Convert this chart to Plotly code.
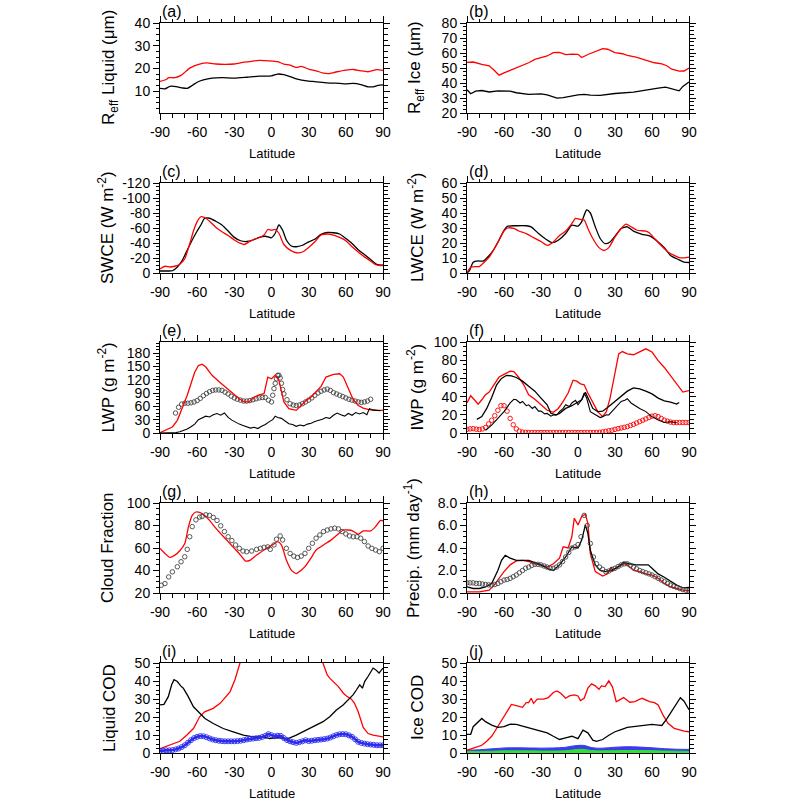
import plotly.graph_objects as go

# ---------------- data ----------------
# (a) Reff liquid
a_lat_red = [-90,-85,-83,-78,-73,-66,-58,-52,-45,-38,-30,-22,-15,-10,-3,5,10,15,20,24,30,36,42,46,52,60,66,72,78,85,90]
a_red = [14.4,15.2,16,16,17,20.2,22,22.5,22,21.8,22,22.8,23.3,23.6,23.4,23,22,21.5,20.5,21,19.8,19,18,17.8,18.5,19.3,19.6,19,18.6,19.5,19.2]
a_lat_blk = [-90,-86,-82,-77,-72,-68,-64,-60,-55,-48,-40,-30,-20,-10,0,5,10,15,20,30,35,45,55,60,66,72,78,82,86,90]
a_blk = [11.3,11.1,12.2,12.1,11.5,11.3,12.6,14,15,15.8,16,15.8,16.2,16.7,16.8,17.6,17.3,16.5,15.5,14.5,14.3,13.7,13.5,13.3,13.5,13,12,12,12.6,12.8]

# (b) Reff ice
b_lat_red = [-90,-85,-78,-72,-68,-64,-60,-50,-40,-35,-30,-25,-20,-15,-10,-5,0,3,8,15,20,24,30,36,40,47,55,62,68,72,76,82,86,90]
b_red = [53.7,54,52.4,51.5,48.5,45.2,46.7,50,53.5,55.7,57,58,60.2,60.4,58.9,59.3,59.1,57,59,61.3,62.9,62.5,60.2,59.5,58.4,57.3,55,53.5,52.8,51.5,49.2,47.9,48,50]
b_lat_blk = [-90,-87,-83,-78,-72,-65,-55,-50,-40,-30,-25,-17,-12,-5,0,5,10,18,30,45,55,65,71,76,82,85,90]
b_blk = [35.5,32.8,34.6,35,34,34.8,34.6,33.5,32.4,32.8,32.1,29.9,30.3,31.5,32.1,32.4,31.9,31.7,33,33.9,35.5,36.6,37.3,36.2,34.8,37.7,40.7]

# (c) SWCE
c_lat_red = [-90,-86,-82,-78,-74,-70,-66,-63,-60,-57,-54,-50,-45,-40,-35,-30,-25,-22,-18,-14,-10,-6,-3,0,3,6,10,15,20,25,30,35,40,45,50,55,60,65,70,75,80,84,88,90]
c_red = [-5.4,-9,-8,-9,-11.6,-19,-39,-56,-68.5,-75,-74,-69,-61,-55,-50,-44,-39.4,-38,-41.6,-45,-47,-50.6,-58,-57,-58,-53,-38,-30.5,-27,-28,-34,-41.6,-50.6,-52,-50.6,-47.5,-43,-35,-28,-21.5,-16,-11,-10,-10.7]
c_lat_blk = [-90,-85,-80,-76,-72,-68,-64,-60,-57,-54,-50,-45,-40,-35,-30,-25,-20,-15,-10,-5,0,3,6,9,12,16,20,25,30,35,40,45,50,55,60,65,70,75,80,85,90]
c_blk = [-2.7,-2.7,-3,-8,-17,-30.5,-44,-56,-64,-73,-73,-69,-64,-56,-47.5,-43,-42,-44,-47.5,-49,-47,-53,-64,-57,-44,-36,-35,-37,-41.6,-45,-51.5,-54,-53.7,-52,-46,-39.4,-31,-24.6,-18,-11.6,-10]

# (d) LWCE
d_lat_red = [-90,-87,-83,-80,-76,-72,-68,-64,-60,-57,-52,-48,-42,-36,-30,-25,-20,-15,-10,-5,-2,2,5,8,12,17,21,25,30,35,39,43,48,55,58,62,68,73,78,82,86,90]
d_red = [0.4,3.8,4.3,4.3,7.2,10.6,16,21.8,28,30,29.7,28,26.3,23.6,21,18.4,20.7,25,28,33,36.4,35.7,35.3,29.7,23,16.9,15,16.9,24,29.7,32.6,30.8,28.5,27.9,26.7,23,17.8,14,11.7,10.3,10.1,10.6]
d_lat_blk = [-90,-88,-85,-81,-77,-72,-68,-64,-60,-57,-50,-42,-38,-32,-26,-21,-16,-10,-5,0,3,7,10,14,18,22,26,30,35,40,45,52,58,65,70,75,82,86,90]
d_blk = [0,1.6,7.2,8.1,7.9,11.7,16,22,28.5,31.2,31.5,31.5,30.8,26.3,22.5,20.2,21.8,26.3,31.9,31.2,34.2,42,40,30.8,23,19.6,20.7,24.5,29.7,30.8,27.9,25.8,24.7,20.7,16.9,11.7,8.8,7.2,7]

# (e) LWP
e_lat_red = [-90,-85,-80,-76,-72,-68,-65,-62,-59,-56,-53,-48,-42,-36,-30,-26,-22,-18,-14,-10,-6,-3,0,3,6,10,14,17,20,24,28,32,36,40,44,50,55,58,62,66,70,74,78,82,86,90]
e_red = [0.8,8,13.5,28.5,55,85,111,137,152,155,148.5,130,115,100,87,77,70,70,81,86,88.5,126,122,130,118.5,70,55,52.5,51,62,73.5,81,92,105,126,132,133.5,126,100,75,62,56,53,51,51,51]
e_lat_blk = [-90,-80,-77,-74,-71,-68,-65,-62,-59,-56,-53,-50,-47,-44,-41,-38,-35,-32,-29,-26,-23,-20,-17,-14,-11,-8,-5,-2,1,3,5,8,11,14,17,20,23,26,29,32,35,38,41,44,47,50,53,56,59,62,65,68,71,74,77,79,82,85,88]
e_blk = [0,0,1,3,6,9,14,20,30,34,38,36,41,44,40,45,35,29,24,20,17,14,11,13,10,15,19,25,30,38,35,33,27,21,19,15,18,16,20,22,26,28,31,35,33,40,45,41,38,44,40,46,43,46,41,55,52,51,50]
e_lat_obs = [-77.5,-75,-72.5,-70,-67.5,-65,-62.5,-60,-57.5,-55,-52.5,-50,-47.5,-45,-42.5,-40,-37.5,-35,-32.5,-30,-27.5,-25,-22.5,-20,-17.5,-15,-12.5,-10,-7.5,-5,-2.5,0,1,2,3,4,5,6,7,8,9,10,12.5,15,17.5,20,22.5,25,27.5,30,32.5,35,37.5,40,42.5,45,47.5,50,52.5,55,57.5,60,62.5,65,67.5,70,72.5,75,77.5,80]
e_obs = [45,58,65,67,67,68,70,73,78,84,89,93,96,97,97,96,92,88,83,79,76,74,72,72,73,75,77,79,80,80,74,70,85,100,112,122,130,130,124,112,98,88,75,66,63,62,63,66,70,74,79,85,90,94,97,99,96,91,88,85,82,79,76,74,72,70,69,70,72,76]

# (f) IWP
f_lat_red = [-90,-87,-84,-81,-78,-75,-72,-68,-64,-60,-55,-52,-48,-44,-40,-35,-30,-25,-20,-16,-12,-8,-4,-1,2,5,8,12,16,20,23,26,30,33,36,40,45,50,55,60,65,70,75,80,85,90]
f_red = [33,41,36.5,31.7,36.5,42,45,53,61.5,64.5,68,67.5,61,53,42,37,31,25,22.8,27,34.7,44,58,57,54,53,44,33,23.5,18,23.5,38.4,68,87,89.5,87,86,89.5,92.5,89,79.5,72,62.7,53,45,46.6]
f_lat_b1 = [-82,-78,-74,-70,-66,-62,-58,-54,-50,-45,-40,-35,-30,-25,-22,-18,-15,-10,-5,0,3,6,8,12,16,20,25,30,35,40,45,50,55,60,65,70,75,80,82]
f_b1 = [15,18,27,39,53,60,63.4,62.7,61,57,51.5,46,38.4,31,21.6,19.8,21.6,27,30,34,36.5,44.8,38.4,27,23.5,24,29,34.7,40,46,49.6,48.5,46,43,38.4,35.4,34,31.7,33.6]
f_lat_b2 = [-75,-70,-65,-60,-55,-52,-50,-47,-45,-42,-40,-37,-35,-32,-30,-27,-25,-22,-20,-17,-15,-12,-10,-7,-5,-2,0,3,5,7,10,13,15,18,20,23,25,28,30,33,35,38,40,43,45,48,50,55,60,65,70,75,80]
f_b2 = [3,8.6,16,23.5,33,37,36.5,33,34.7,30,31,27,29,24,24,21,21.5,18.5,19.8,20,23.5,27,31,29,33,36,31,36.5,44,38.4,23.5,21,19.8,17,18,20,19.8,24,27,31,34.7,36,37.7,33,31,29,27,23.5,18,14.2,11.6,12.3,11.2]
lat25 = [-90,-87.5,-85,-82.5,-80,-77.5,-75,-72.5,-70,-67.5,-65,-62.5,-60,-57.5,-55,-52.5,-50,-47.5,-45,-42.5,
         -40,-37.5,-35,-32.5,-30,-27.5,-25,-22.5,-20,-17.5,-15,-12.5,-10,-7.5,-5,-2.5,0,2.5,5,7.5,
         10,12.5,15,17.5,20,22.5,25,27.5,30,32.5,35,37.5,40,42.5,45,47.5,50,52.5,55,57.5,
         60,62.5,65,67.5,70,72.5,75,77.5,80,82.5,85,87.5,90]
f_redobs = [4,4.5,4.8,4.2,3.8,4.5,6,10,14,19,25,30,30,24,16,9,4.5,2,1,0.7,
            0.5,0.5,0.5,0.5,0.5,0.5,0.5,0.5,0.5,0.5,0.5,0.5,0.5,0.5,0.5,0.5,0.5,0.5,0.5,0.5,
            0.5,0.5,0.6,0.8,1.2,1.8,2.5,3,4,4.8,5.5,6.2,7,8.2,9.5,11,12.5,14,15.5,17,
            18.5,19,18,16,14,13,12,11.5,11.5,11.5,11.5,11.5,11.5]

# (g) cloud fraction
g_lat_red = [-90,-86,-82,-78,-74,-70,-67,-64,-61,-58,-54,-50,-45,-40,-35,-30,-25,-21,-17,-12,-6,-2,2,5,8,12,16,20,24,28,32,36,42,48,53,58,62,65,70,74,80,84,88,90]
g_red = [59.7,55.2,51.6,53.7,57.6,64,79,89,92,91.6,89,84.5,77.6,71.6,65.7,59.7,53.7,48.4,49.3,53.7,58.2,61,63.6,65.7,62.7,49.3,40.3,37.3,40.3,44.8,51.3,58.2,62.7,67,71.6,76,76,75.5,72.2,75.2,75.2,79,84.5,84.2]
g_lat_obs = [-89,-86,-83,-80,-76,-73,-70,-68,-66,-64,-61,-58,-56,-53,-50,-47,-44,-41,-38,-35,-32,-29,-26,-23,-20,-16,-12,-9,-6,-3,-1,2,4,7,9,12,15,18,21,24,27,30,33,36,39,42,45,48,51,54,57,60,63,66,69,72,75,78,81,84,87,90]
g_obs = [26.9,28.4,34.3,38.8,43.3,47.8,52.2,58.8,70,79,85,87.5,88,89.5,89,87.2,84.5,79.7,74.6,70,66.6,62.7,59.7,57.3,56.7,57.3,58.8,59.7,60.6,61,58.8,62.7,67.8,70.7,67.2,59.7,55.2,52.8,51.6,52.8,55.2,59.7,64.2,68.7,71.6,74.6,76,77,77.6,77,74.6,72.5,70.7,70,70,68.7,65.7,61.8,59.7,58.2,56.7,59.7]

# (h) precipitation
h_lat_red = [-90,-80,-72,-68,-64,-60,-55,-50,-45,-40,-35,-30,-25,-20,-15,-12,-8,-5,-3,0,3,6,8,10,14,20,24,27,28,32,37,40,45,50,55,60,65,70,75,80,85,90]
h_red = [0.1,0.1,0.25,0.7,1.3,1.9,2.5,2.85,2.9,2.8,2.6,2.5,2.3,2.6,3.1,4.1,4.0,5.0,6.65,6.05,6.8,7.0,6.2,3.5,1.9,1.5,1.7,2.3,2.0,2.3,2.6,2.5,2.0,1.9,1.7,1.6,1.3,0.85,0.55,0.4,0.25,0.2]
h_lat_blk = [-90,-85,-80,-75,-70,-65,-62,-59,-55,-50,-45,-40,-35,-30,-25,-20,-15,-10,-5,0,3,6,8,10,14,18,22,27,32,37,42,47,52,57,60,65,70,75,80,85,90]
h_blk = [0.55,0.4,0.4,0.55,0.85,2.0,2.9,3.35,3.1,2.9,2.9,2.9,2.7,2.5,2.2,2.0,2.5,3.2,4.1,4.0,4.7,6.05,5.3,3.8,2.5,2.0,1.9,2.0,2.3,2.7,2.6,2.5,2.5,2.5,2.2,1.7,1.4,1.05,0.7,0.45,0.5]
h_obs = [0.9,0.9,0.9,0.85,0.85,0.8,0.75,0.72,0.7,0.75,0.85,1.0,1.15,1.2,1.3,1.45,1.6,1.8,2.0,2.2,
         2.3,2.45,2.55,2.55,2.5,2.4,2.3,2.2,2.2,2.3,2.5,2.8,3.2,3.6,4.0,4.1,4.3,5.0,6.9,6.0,
         4.4,3.2,2.6,2.3,2.1,1.9,1.95,2.1,2.2,2.35,2.5,2.6,2.6,2.45,2.3,2.15,2.0,1.9,1.8,1.7,
         1.6,1.45,1.3,1.15,1.0,0.85,0.7,0.6,0.5,0.4,0.3,0.25,0.2]

# (i) liquid COD
i_lat_red = [-90,-82,-74,-68.5,-63,-58,-54,-47,-41.5,-39,-33.5,-29.5,-27,-25,0,41,43,45,47,54,58,60.5,64.5,67,70,72,74,78,82,90]
i_red = [2.4,4.3,6.5,9.9,13.6,20.1,22.9,24.8,27.6,29.5,34,40.7,46.3,51,None,51,46.6,43.4,41.6,36.9,33.2,31.7,29.9,27.6,22.9,18.3,14.2,10.8,9.9,9.0]
i_lat_blk = [-90,-86.8,-83.3,-80.6,-78.7,-76,-73.3,-71.2,-67.2,-63,-60.4,-53.7,-47,-39,-30.9,-22.8,-14.8,-6.7,-1.3,5.4,12,14.8,20,28,36,41.6,47,52.4,57.8,61.8,65.8,68.5,71.2,73.4,75.2,77.9,82,84,86.8,90]
i_blk = [26.7,27,31.3,37.9,40.7,39.7,37.3,36,31.3,25.7,23.9,19.2,16.4,13.6,11.8,9.9,9.0,9.0,8.0,8.6,7.6,8.4,9.9,12.7,15.5,17.4,20.1,23.9,26.7,29.5,32.3,35,37.9,36,39.7,42.5,47.2,46.3,44.4,47.2]
i_blue = [1.2,1.3,1.5,1.5,1.6,2,2.5,3.3,4.3,5.7,7.1,8.3,9,9.4,9.3,8.8,8.1,7.5,7.1,6.8,
          6.6,6.5,6.5,6.5,6.5,6.6,6.8,7.1,7.5,7.8,8,8.2,8.4,8.9,9.5,10.5,9.9,9.3,9.6,9.5,
          8.3,7.2,6.5,6.0,5.6,6.0,6.5,7.1,6.6,6.8,7.1,7.3,7.5,7.7,8,8.6,9.3,10,10.4,10.5,
          10.4,9.8,9,7.6,6.2,5.6,5.2,4.9,4.7,4.5,4.3,4.3,4.3]

# (j) ice COD
j_lat_red = [-90,-86,-82,-78,-74,-70,-66,-62,-58,-54,-50,-45,-42,-40,-38,-36,-33,-28,-24,-20,-17,-14,-10,-7,-3,0,2,5,8,11,14,17,19,22,25,28,31,34,37,42,46,52,58,62,65,69,73,78,83,86,90]
j_red = [1.5,2.4,3.7,4.3,6.5,9.3,13.6,18.3,23,27,26.3,25.4,28,28,30.4,27.6,29.9,29.9,30.8,33.6,34.5,33.2,30.4,31.7,32.3,31.7,29.1,30.4,36,38.4,37.3,35.4,37.3,36.9,40.1,36.6,28.5,29.5,30.8,28.2,28.5,30.4,28.6,28,26.7,21,16.5,13.7,12.5,12.1,11.8]
j_lat_blk = [-90,-87,-85,-82,-80,-78,-75,-70,-65,-60,-55,-50,-45,-40,-30,-25,-20,-15,-10,-5,0,4,8,12,15,20,25,30,35,40,45,50,55,60,65,68,72,76,80,83,86,90]
j_blk = [10.3,10.4,14.6,16.8,18.3,19.2,17.4,15.5,14.2,14.6,16,15.9,14.9,14,12.3,11.2,9.3,7.5,8.4,9.3,8,12.7,11.2,7.1,6.5,7.5,9.9,11.8,13,14.2,14.6,14.9,15.5,15.9,15.5,15.3,19,23.5,27.5,30.7,28.8,24]
j_lat_band = [-90,-80,-70,-60,-50,-40,-30,-20,-10,-5,0,5,10,15,20,30,40,50,60,70,80,90]
j_blue = [1.5,1.8,2.3,2.8,2.9,2.8,2.7,2.8,3.2,3.8,4.2,4.2,3.2,2.7,2.7,3.2,3.5,3.3,2.9,2.4,2.1,2.0]
j_green = [0.8,0.9,1.0,1.2,1.2,1.2,1.1,1.1,1.3,1.6,2.0,2.0,1.4,1.2,1.2,1.3,1.4,1.4,1.3,1.1,1.0,0.9]

# ticks
lat_ticks = [-90, -60, -30, 0, 30, 60, 90]
yt_a = [10, 20, 30, 40]
yt_b = [20, 30, 40, 50, 60, 70, 80]
yt_c = [0, -20, -40, -60, -80, -100, -120]
yt_d = [0, 10, 20, 30, 40, 50, 60]
yt_e = [0, 30, 60, 90, 120, 150, 180]
yt_f = [0, 20, 40, 60, 80, 100]
yt_g = [20, 40, 60, 80, 100]
yt_h = [0, 2, 4, 6, 8]
yt_h_text = ["0.0", "2.0", "4.0", "6.0", "8.0"]
yt_i = [0, 10, 20, 30, 40, 50]
yt_j = [0, 10, 20, 30, 40, 50]

# ---------------- layout ----------------
FONT = "Liberation Sans, Arial, Helvetica, sans-serif"
W = H = 800
cols = [(160, 383), (467, 689)]
rows = [(23, 113), (183, 273), (342, 433), (503, 593), (663, 753)]

panels = [
    dict(lab="(a)", r=0, c=0, yr=[0.5, 40], yt=yt_a, mn=2.5, tit="R<sub>eff</sub> Liquid (μm)", tx=110),
    dict(lab="(b)", r=0, c=1, yr=[20, 80], yt=yt_b, mn=2.5, tit="R<sub>eff</sub> Ice (μm)", tx=416),
    dict(lab="(c)", r=1, c=0, yr=[0, -120], yt=yt_c, mn=5, tit="SWCE (W m<sup>-2</sup>)", tx=106),
    dict(lab="(d)", r=1, c=1, yr=[0, 60], yt=yt_d, mn=2.5, tit="LWCE (W m<sup>-2</sup>)", tx=416),
    dict(lab="(e)", r=2, c=0, yr=[0, 205], yt=yt_e, mn=7.5, tit="LWP (g m<sup>-2</sup>)", tx=106),
    dict(lab="(f)", r=2, c=1, yr=[0, 100], yt=yt_f, mn=5, tit="IWP (g m<sup>-2</sup>)", tx=415),
    dict(lab="(g)", r=3, c=0, yr=[20, 100], yt=yt_g, mn=5, tit="Cloud Fraction", tx=107),
    dict(lab="(h)", r=3, c=1, yr=[0, 8], yt=yt_h, ytt=yt_h_text, mn=0.5, tit="Precip. (mm day<sup>-1</sup>)", tx=412),
    dict(lab="(i)", r=4, c=0, yr=[0, 50], yt=yt_i, mn=2.5, tit="Liquid COD", tx=109),
    dict(lab="(j)", r=4, c=1, yr=[0, 50], yt=yt_j, mn=2.5, tit="Ice COD", tx=417),
]

fig = go.Figure()
layout = dict(width=W, height=H, margin=dict(l=0, r=0, t=0, b=0, autoexpand=False),
              paper_bgcolor="white", plot_bgcolor="white", showlegend=False,
              font=dict(family=FONT, size=14, color="black"))
annotations = []
for k, p in enumerate(panels, start=1):
    x0, x1 = cols[p["c"]]
    top, bot = rows[p["r"]]
    ax = dict(domain=[x0 / W, x1 / W], anchor=f"y{k}", range=[-90, 90], automargin=False,
              tickmode="array", tickvals=lat_ticks, ticktext=[str(v) for v in lat_ticks],
              ticks="outside", ticklen=6, tickwidth=1, tickcolor="black",
              showline=True, linewidth=1, linecolor="black", mirror="ticks",
              showgrid=False, zeroline=False, tickfont=dict(size=14),
              minor=dict(ticks="outside", ticklen=3.5, tickwidth=1, tickcolor="black",
                         tick0=-90, dtick=10, showgrid=False))
    ay = dict(domain=[1 - bot / H, 1 - top / H], anchor=f"x{k}", range=p["yr"], automargin=False,
              tickmode="array", tickvals=p["yt"],
              ticktext=p.get("ytt", [str(v) for v in p["yt"]]),
              ticks="outside", ticklen=6, tickwidth=1, tickcolor="black",
              showline=True, linewidth=1, linecolor="black", mirror="ticks",
              showgrid=False, zeroline=False, tickfont=dict(size=14),
              minor=dict(ticks="outside", ticklen=3.5, tickwidth=1, tickcolor="black",
                         tick0=0, dtick=p["mn"], showgrid=False))
    layout["xaxis" if k == 1 else f"xaxis{k}"] = ax
    layout["yaxis" if k == 1 else f"yaxis{k}"] = ay
    annotations.append(dict(text=p["lab"], x=x0 / W, y=1 - (top - 12) / H, xref="paper", yref="paper",
                            xanchor="left", yanchor="middle", showarrow=False, font=dict(size=16)))
    annotations.append(dict(text="Latitude", x=(x0 + x1) / 2 / W, y=1 - (bot + 40) / H,
                            xref="paper", yref="paper", xanchor="center", yanchor="middle",
                            showarrow=False, font=dict(size=13)))
    annotations.append(dict(text=p["tit"], x=p["tx"] / W, y=1 - (top + bot) / 2 / H,
                            xref="paper", yref="paper", xanchor="center", yanchor="middle",
                            textangle=-90, showarrow=False, font=dict(size=17)))
layout["annotations"] = annotations
fig.update_layout(**layout)

LW = 1.3
def line(k, x, y, color, shape="linear", width=LW):
    xa = "x" if k == 1 else f"x{k}"
    ya = "y" if k == 1 else f"y{k}"
    fig.add_trace(go.Scatter(x=x, y=y, mode="lines", xaxis=xa, yaxis=ya,
                             line=dict(color=color, width=width, shape=shape, smoothing=0.6),
                             hoverinfo="skip"))

def circ(k, x, y, color, size=4.5):
    xa = "x" if k == 1 else f"x{k}"
    ya = "y" if k == 1 else f"y{k}"
    fig.add_trace(go.Scatter(x=x, y=y, mode="markers", xaxis=xa, yaxis=ya,
                             marker=dict(symbol="circle-open", size=size, color=color,
                                         line=dict(width=0.9, color=color)),
                             hoverinfo="skip"))

RED, BLK, GRY, BLU = "#FF0000", "#000000", "#444444", "#2B2BEE"

# (a)
line(1, a_lat_red, a_red, RED, "spline")
line(1, a_lat_blk, a_blk, BLK, "spline")
# (b)
line(2, b_lat_red, b_red, RED)
line(2, b_lat_blk, b_blk, BLK)
# (c)
line(3, c_lat_blk, c_blk, BLK, "spline")
line(3, c_lat_red, c_red, RED, "spline")
# (d)
line(4, d_lat_blk, d_blk, BLK, "spline")
line(4, d_lat_red, d_red, RED, "spline")
# (e)
circ(5, e_lat_obs, e_obs, GRY, 4.5)
line(5, e_lat_red, e_red, RED)
line(5, e_lat_blk, e_blk, BLK, width=1.1)
# (f)
circ(6, lat25, f_redobs, RED, 4.5)
line(6, f_lat_red, f_red, RED)
line(6, f_lat_b1, f_b1, BLK)
line(6, f_lat_b2, f_b2, BLK, width=1.1)
# (g)
line(7, g_lat_red, g_red, RED, "spline")
circ(7, g_lat_obs, g_obs, GRY, 4.5)
# (h)
line(8, h_lat_red, h_red, RED)
line(8, h_lat_blk, h_blk, BLK)
circ(8, lat25, h_obs, GRY, 4.5)
# (i)
line(9, i_lat_red, i_red, RED)
line(9, i_lat_blk, i_blk, BLK)
line(9, lat25, i_blue, BLU, "spline", 2.5)
circ(9, lat25, i_blue, BLU, 5)
# (j)
fig.add_trace(go.Scatter(x=j_lat_band, y=j_blue, mode="lines", xaxis="x10", yaxis="y10",
                         fill="tozeroy", fillcolor="#3A3AF0", line=dict(color="#3A3AF0", width=1, shape="spline"),
                         hoverinfo="skip"))
fig.add_trace(go.Scatter(x=j_lat_band, y=j_green, mode="lines", xaxis="x10", yaxis="y10",
                         fill="tozeroy", fillcolor="#33DD33", line=dict(color="#33DD33", width=1, shape="spline"),
                         hoverinfo="skip"))
line(10, j_lat_red, j_red, RED)
line(10, j_lat_blk, j_blk, BLK)

fig.write_html("out.html", config={"displayModeBar": False, "staticPlot": True},
               post_script="document.body.style.margin='0px';document.body.style.padding='0px';")
